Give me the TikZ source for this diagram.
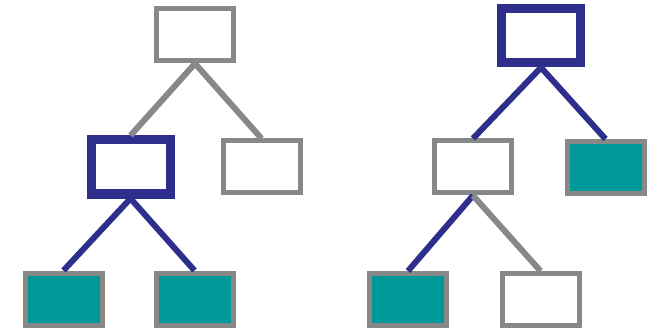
\documentclass[tikz,border=0pt]{standalone}
\definecolor{treegray}{RGB}{136,136,136}
\definecolor{treeblue}{RGB}{46,46,140}
\definecolor{treeteal}{RGB}{0,153,153}
\begin{document}
\begin{tikzpicture}
[x=1pt, y=-1pt,
 nodes={draw=treegray, line width=5pt, fill=white, inner sep=0pt, minimum width=77pt, minimum height=52pt},
 sel/.style={draw=treeblue, line width=9pt, minimum width=79pt, minimum height=54pt},
 leaf/.style={fill=treeteal},
 link/.style={draw=treegray, line width=6pt},
 hotlink/.style={draw=treeblue, line width=6pt}]
\useasboundingbox (0,0) rectangle (650,331);

% left tree
\node (root1) at (195,35) {};
\node (mid1) at (130.5,167) [sel] {};
\node (side1) at (261.5,167) {};
\node (leafA1) at (63.5,299) [leaf] {};
\node (leafB1) at (194.5,299) [leaf] {};
\draw [link] (root1.south) -- (mid1.north);
\draw [link] (root1.south) -- (side1.north);
\draw [hotlink] (mid1.south) -- (leafA1.north);
\draw [hotlink] (mid1.south) -- (leafB1.north);

% right tree
\node (root2) at (541,36) [sel] {};
\node (mid2) at (473,167) {};
\node (side2) at (605.5,167.5) [leaf] {};
\node (leafA2) at (408,299.5) [leaf] {};
\node (leafB2) at (540.5,299.5) {};
\draw [hotlink] (root2.south) -- (mid2.north);
\draw [hotlink] (root2.south) -- (side2.north);
\draw [hotlink] (mid2.south) -- (leafA2.north);
\draw [link] (mid2.south) -- (leafB2.north);
\end{tikzpicture}
\end{document}
